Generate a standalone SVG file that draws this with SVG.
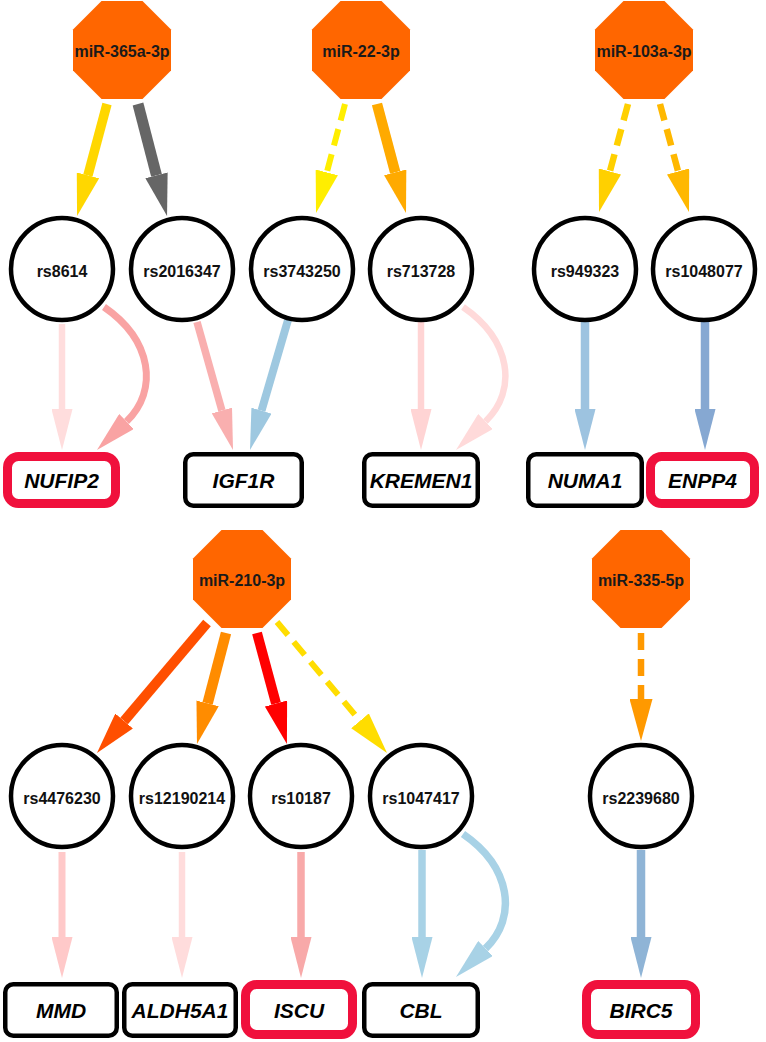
<svg xmlns="http://www.w3.org/2000/svg" width="766" height="1042" viewBox="0 0 766 1042">
<style>
.oct{fill:#FF6600;stroke:none}
.olab{font-family:"Liberation Sans",Arial,sans-serif;font-weight:bold;font-size:16px;fill:#1a1a1a;text-anchor:middle}
.snp{fill:#fff;stroke:#000;stroke-width:4.5}
.slab{font-family:"Liberation Sans",Arial,sans-serif;font-weight:bold;font-size:16px;fill:#111;text-anchor:middle}
.gene{fill:#fff;stroke:#000;stroke-width:4.5}
.hit{fill:#fff;stroke:#F0103C;stroke-width:9}
.glab{font-family:"Liberation Sans",Arial,sans-serif;font-weight:bold;font-style:italic;font-size:21px;fill:#000;text-anchor:middle}
.e{fill:none;stroke-linecap:butt}
.d{stroke-dasharray:17 9}
</style>
<defs>
<marker id="mYel" markerUnits="userSpaceOnUse" viewBox="0 0 42 23" markerWidth="42" markerHeight="23" refX="0" refY="11.5" orient="auto"><path d="M0,0L42,11.5L0,23z" fill="#FFD700"/></marker>
<marker id="mGray" markerUnits="userSpaceOnUse" viewBox="0 0 42 23" markerWidth="42" markerHeight="23" refX="0" refY="11.5" orient="auto"><path d="M0,0L42,11.5L0,23z" fill="#666666"/></marker>
<marker id="mLY" markerUnits="userSpaceOnUse" viewBox="0 0 42 23" markerWidth="42" markerHeight="23" refX="0" refY="11.5" orient="auto"><path d="M0,0L42,11.5L0,23z" fill="#FFEE00"/></marker>
<marker id="mOrA" markerUnits="userSpaceOnUse" viewBox="0 0 42 23" markerWidth="42" markerHeight="23" refX="0" refY="11.5" orient="auto"><path d="M0,0L42,11.5L0,23z" fill="#FFAA00"/></marker>
<marker id="mGd" markerUnits="userSpaceOnUse" viewBox="0 0 42 23" markerWidth="42" markerHeight="23" refX="0" refY="11.5" orient="auto"><path d="M0,0L42,11.5L0,23z" fill="#FFD000"/></marker>
<marker id="mAmb" markerUnits="userSpaceOnUse" viewBox="0 0 42 23" markerWidth="42" markerHeight="23" refX="0" refY="11.5" orient="auto"><path d="M0,0L42,11.5L0,23z" fill="#FFB800"/></marker>
<marker id="mOR" markerUnits="userSpaceOnUse" viewBox="0 0 42 23" markerWidth="42" markerHeight="23" refX="0" refY="11.5" orient="auto"><path d="M0,0L42,11.5L0,23z" fill="#FF4F00"/></marker>
<marker id="mDO" markerUnits="userSpaceOnUse" viewBox="0 0 42 23" markerWidth="42" markerHeight="23" refX="0" refY="11.5" orient="auto"><path d="M0,0L42,11.5L0,23z" fill="#FF8C00"/></marker>
<marker id="mRed" markerUnits="userSpaceOnUse" viewBox="0 0 42 23" markerWidth="42" markerHeight="23" refX="0" refY="11.5" orient="auto"><path d="M0,0L42,11.5L0,23z" fill="#FF0000"/></marker>
<marker id="mY2" markerUnits="userSpaceOnUse" viewBox="0 0 42 23" markerWidth="42" markerHeight="23" refX="0" refY="11.5" orient="auto"><path d="M0,0L42,11.5L0,23z" fill="#FFDD00"/></marker>
<marker id="mOr9" markerUnits="userSpaceOnUse" viewBox="0 0 42 23" markerWidth="42" markerHeight="23" refX="0" refY="11.5" orient="auto"><path d="M0,0L42,11.5L0,23z" fill="#FF9900"/></marker>
<marker id="p1" markerUnits="userSpaceOnUse" viewBox="0 0 41 21" markerWidth="41" markerHeight="21" refX="0" refY="10.5" orient="auto"><path d="M0,0L41,10.5L0,21z" fill="#FFDDDD"/></marker>
<marker id="p2" markerUnits="userSpaceOnUse" viewBox="0 0 41 21" markerWidth="41" markerHeight="21" refX="0" refY="10.5" orient="auto"><path d="M0,0L41,10.5L0,21z" fill="#F9A3A3"/></marker>
<marker id="p3" markerUnits="userSpaceOnUse" viewBox="0 0 41 21" markerWidth="41" markerHeight="21" refX="0" refY="10.5" orient="auto"><path d="M0,0L41,10.5L0,21z" fill="#F9AFAF"/></marker>
<marker id="p4" markerUnits="userSpaceOnUse" viewBox="0 0 41 21" markerWidth="41" markerHeight="21" refX="0" refY="10.5" orient="auto"><path d="M0,0L41,10.5L0,21z" fill="#FFD4D4"/></marker>
<marker id="p5" markerUnits="userSpaceOnUse" viewBox="0 0 41 21" markerWidth="41" markerHeight="21" refX="0" refY="10.5" orient="auto"><path d="M0,0L41,10.5L0,21z" fill="#FFDADA"/></marker>
<marker id="p6" markerUnits="userSpaceOnUse" viewBox="0 0 41 21" markerWidth="41" markerHeight="21" refX="0" refY="10.5" orient="auto"><path d="M0,0L41,10.5L0,21z" fill="#FFC9C9"/></marker>
<marker id="p7" markerUnits="userSpaceOnUse" viewBox="0 0 41 21" markerWidth="41" markerHeight="21" refX="0" refY="10.5" orient="auto"><path d="M0,0L41,10.5L0,21z" fill="#FFDCDC"/></marker>
<marker id="p8" markerUnits="userSpaceOnUse" viewBox="0 0 41 21" markerWidth="41" markerHeight="21" refX="0" refY="10.5" orient="auto"><path d="M0,0L41,10.5L0,21z" fill="#F8A9A9"/></marker>
<marker id="b1" markerUnits="userSpaceOnUse" viewBox="0 0 41 21" markerWidth="41" markerHeight="21" refX="0" refY="10.5" orient="auto"><path d="M0,0L41,10.5L0,21z" fill="#9EC8E0"/></marker>
<marker id="b2" markerUnits="userSpaceOnUse" viewBox="0 0 41 21" markerWidth="41" markerHeight="21" refX="0" refY="10.5" orient="auto"><path d="M0,0L41,10.5L0,21z" fill="#9DC3E0"/></marker>
<marker id="b3" markerUnits="userSpaceOnUse" viewBox="0 0 41 21" markerWidth="41" markerHeight="21" refX="0" refY="10.5" orient="auto"><path d="M0,0L41,10.5L0,21z" fill="#86A8D2"/></marker>
<marker id="b4" markerUnits="userSpaceOnUse" viewBox="0 0 41 21" markerWidth="41" markerHeight="21" refX="0" refY="10.5" orient="auto"><path d="M0,0L41,10.5L0,21z" fill="#A8D2E6"/></marker>
<marker id="b5" markerUnits="userSpaceOnUse" viewBox="0 0 41 21" markerWidth="41" markerHeight="21" refX="0" refY="10.5" orient="auto"><path d="M0,0L41,10.5L0,21z" fill="#8FB4D6"/></marker>
</defs>
<rect width="766" height="1042" fill="#fff"/>
<g id="connectors">
<path class="e" d="M107,104L87.9,175.4" stroke="#FFD700" stroke-width="9.5" marker-end="url(#mYel)"/>
<path class="e" d="M138,104L156.5,175.3" stroke="#666666" stroke-width="11" marker-end="url(#mGray)"/>
<path class="e d" d="M345,104L326.8,172.4" stroke="#FFEE00" stroke-width="6" marker-end="url(#mLY)"/>
<path class="e" d="M377,104L395.2,172.4" stroke="#FFAA00" stroke-width="10.5" marker-end="url(#mOrA)"/>
<path class="e d" d="M628,104L609.9,171.4" stroke="#FFD000" stroke-width="6.5" marker-end="url(#mGd)"/>
<path class="e d" d="M660,104L678.1,171.4" stroke="#FFB800" stroke-width="6.5" marker-end="url(#mAmb)"/>
<path class="e" d="M62,324L62,409" stroke="#FFDDDD" stroke-width="6.5" marker-end="url(#p1)"/>
<path class="e" d="M104,307C152,340 158.9,390.3 126.5,421.5" stroke="#F9A3A3" stroke-width="7" marker-end="url(#p2)"/>
<path class="e" d="M197,322L221.9,410.5" stroke="#F9AFAF" stroke-width="7.5" marker-end="url(#p3)"/>
<path class="e" d="M288,320L261.5,410.6" stroke="#9EC8E0" stroke-width="8" marker-end="url(#b1)"/>
<path class="e" d="M421,322L421,409" stroke="#FFD4D4" stroke-width="6.5" marker-end="url(#p4)"/>
<path class="e" d="M463,307C511,340 517.9,390.3 485.5,421.5" stroke="#FFDADA" stroke-width="6.5" marker-end="url(#p5)"/>
<path class="e" d="M585,322L585,409" stroke="#9DC3E0" stroke-width="8.5" marker-end="url(#b2)"/>
<path class="e" d="M705,322L705,409" stroke="#86A8D2" stroke-width="8.5" marker-end="url(#b3)"/>
<path class="e" d="M207,623L124.1,721" stroke="#FF4F00" stroke-width="10" marker-end="url(#mOR)"/>
<path class="e" d="M226,633L207.6,703.4" stroke="#FF8C00" stroke-width="10.5" marker-end="url(#mDO)"/>
<path class="e" d="M257,633L276,703.5" stroke="#FF0000" stroke-width="10" marker-end="url(#mRed)"/>
<path class="e d" d="M277,622L360,720.8" stroke="#FFDD00" stroke-width="6" marker-end="url(#mY2)"/>
<path class="e d" d="M641,633L641,699" stroke="#FF9900" stroke-width="6.5" marker-end="url(#mOr9)"/>
<path class="e" d="M62,852L62,937" stroke="#FFC9C9" stroke-width="7" marker-end="url(#p6)"/>
<path class="e" d="M182,852L182,937" stroke="#FFDCDC" stroke-width="6.5" marker-end="url(#p7)"/>
<path class="e" d="M301,852L301,937" stroke="#F8A9A9" stroke-width="7.5" marker-end="url(#p8)"/>
<path class="e" d="M422,850L422,937" stroke="#A8D2E6" stroke-width="7.5" marker-end="url(#b4)"/>
<path class="e" d="M463,834C511,867 517.9,917.3 485.5,948.5" stroke="#A8D2E6" stroke-width="7.5" marker-end="url(#b4)"/>
<path class="e" d="M641,850L641,937" stroke="#8FB4D6" stroke-width="8.5" marker-end="url(#b5)"/>
</g>
<g id="miR-365a-3p"><polygon class="oct" points="101.5,1 142.5,1 171,29.5 171,70.5 142.5,99 101.5,99 73,70.5 73,29.5"/><text class="olab" x="122" y="57">miR-365a-3p</text></g>
<g id="miR-22-3p"><polygon class="oct" points="340.5,1 381.5,1 410,29.5 410,70.5 381.5,99 340.5,99 312,70.5 312,29.5"/><text class="olab" x="361" y="57">miR-22-3p</text></g>
<g id="miR-103a-3p"><polygon class="oct" points="623.5,1 664.5,1 693,29.5 693,70.5 664.5,99 623.5,99 595,70.5 595,29.5"/><text class="olab" x="644" y="57">miR-103a-3p</text></g>
<g id="miR-210-3p"><polygon class="oct" points="221.5,530 262.5,530 291,558.5 291,599.5 262.5,628 221.5,628 193,599.5 193,558.5"/><text class="olab" x="242" y="586">miR-210-3p</text></g>
<g id="miR-335-5p"><polygon class="oct" points="620.5,530 661.5,530 690,558.5 690,599.5 661.5,628 620.5,628 592,599.5 592,558.5"/><text class="olab" x="641" y="586">miR-335-5p</text></g>
<g id="rs8614"><circle class="snp" cx="62" cy="269" r="51"/><text class="slab" x="62" y="277">rs8614</text></g>
<g id="rs2016347"><circle class="snp" cx="182" cy="269" r="51"/><text class="slab" x="182" y="277">rs2016347</text></g>
<g id="rs3743250"><circle class="snp" cx="302" cy="269" r="51"/><text class="slab" x="302" y="277">rs3743250</text></g>
<g id="rs713728"><circle class="snp" cx="421" cy="269" r="51"/><text class="slab" x="421" y="277">rs713728</text></g>
<g id="rs949323"><circle class="snp" cx="585" cy="269" r="51"/><text class="slab" x="585" y="277">rs949323</text></g>
<g id="rs1048077"><circle class="snp" cx="704" cy="269" r="51"/><text class="slab" x="704" y="277">rs1048077</text></g>
<g id="rs4476230"><circle class="snp" cx="62" cy="796" r="51"/><text class="slab" x="62" y="804">rs4476230</text></g>
<g id="rs12190214"><circle class="snp" cx="182" cy="796" r="51"/><text class="slab" x="182" y="804">rs12190214</text></g>
<g id="rs10187"><circle class="snp" cx="301" cy="796" r="51"/><text class="slab" x="301" y="804">rs10187</text></g>
<g id="rs1047417"><circle class="snp" cx="421" cy="796" r="51"/><text class="slab" x="421" y="804">rs1047417</text></g>
<g id="rs2239680"><circle class="snp" cx="641" cy="796" r="51"/><text class="slab" x="641" y="804">rs2239680</text></g>
<g id="NUFIP2"><rect class="hit" x="7.5" y="456.5" width="108" height="47" rx="11"/><text class="glab" x="61.5" y="488">NUFIP2</text></g>
<g id="IGF1R"><rect class="gene" x="185.25" y="454.25" width="116.5" height="51.5" rx="8"/><text class="glab" x="243.5" y="488">IGF1R</text></g>
<g id="KREMEN1"><rect class="gene" x="364.25" y="454.25" width="113.5" height="51.5" rx="8"/><text class="glab" x="421" y="488">KREMEN1</text></g>
<g id="NUMA1"><rect class="gene" x="528.25" y="454.25" width="113.5" height="51.5" rx="8"/><text class="glab" x="585" y="488">NUMA1</text></g>
<g id="ENPP4"><rect class="hit" x="650.5" y="456.5" width="104" height="47" rx="11"/><text class="glab" x="702.5" y="488">ENPP4</text></g>
<g id="MMD"><rect class="gene" x="5.25" y="984.25" width="111.5" height="51.5" rx="8"/><text class="glab" x="61" y="1018">MMD</text></g>
<g id="ALDH5A1"><rect class="gene" x="124.25" y="984.25" width="111.5" height="51.5" rx="8"/><text class="glab" x="180" y="1018">ALDH5A1</text></g>
<g id="ISCU"><rect class="hit" x="245.5" y="984.5" width="107" height="50" rx="11"/><text class="glab" x="299" y="1018">ISCU</text></g>
<g id="CBL"><rect class="gene" x="364.25" y="984.25" width="113.5" height="51.5" rx="8"/><text class="glab" x="421" y="1018">CBL</text></g>
<g id="BIRC5"><rect class="hit" x="586.5" y="984.5" width="109" height="50" rx="11"/><text class="glab" x="641" y="1018">BIRC5</text></g>
</svg>
